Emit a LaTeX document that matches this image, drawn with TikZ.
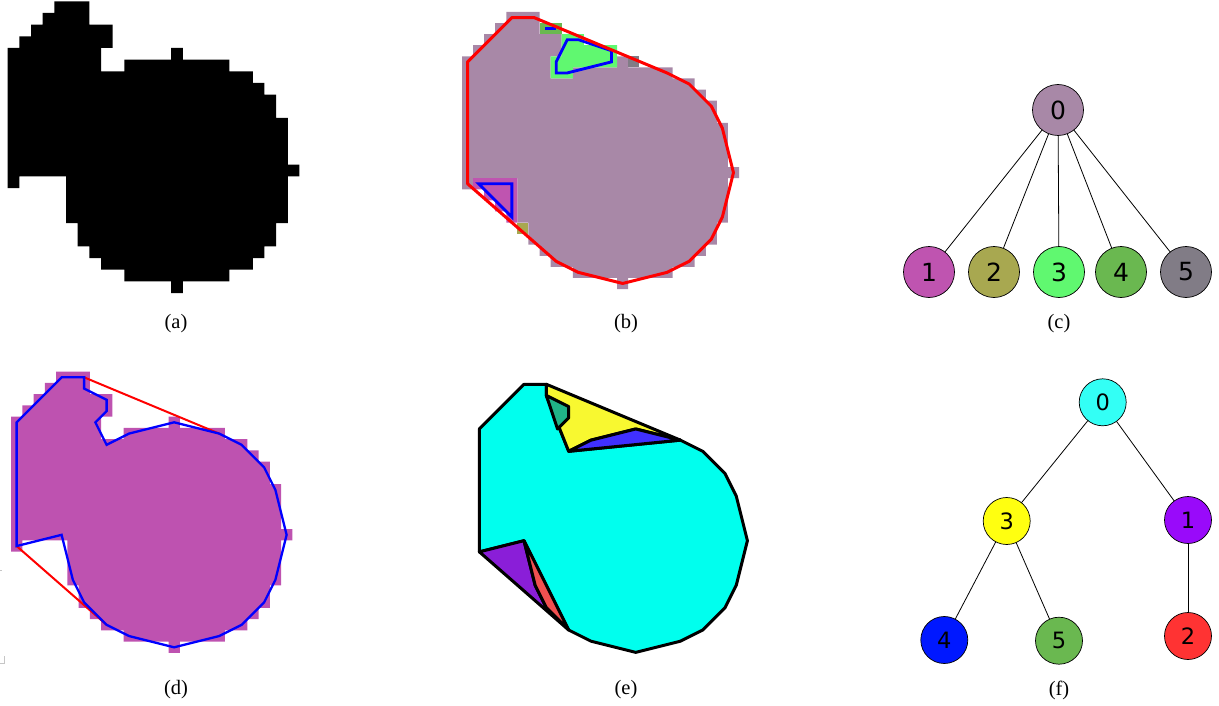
\documentclass[tikz,border=0pt]{standalone}
\usepackage{fontspec}
\setmainfont{Liberation Serif}
\newfontfamily\nodefont{DejaVu Sans}
\usetikzlibrary{backgrounds}
\definecolor{bpurple}{RGB}{168,136,167}
\definecolor{cmag}{RGB}{191,84,176}
\definecolor{colive}{RGB}{168,168,80}
\definecolor{clgreen}{RGB}{96,248,112}
\definecolor{cgreen}{RGB}{106,184,80}
\definecolor{cgray}{RGB}{129,124,134}
\definecolor{dmag}{RGB}{190,82,176}
\definecolor{ecyan}{RGB}{0,255,238}
\definecolor{eyellow}{RGB}{248,248,48}
\definecolor{eteal}{RGB}{32,180,136}
\definecolor{eblue}{RGB}{64,48,255}
\definecolor{epurple}{RGB}{138,30,216}
\definecolor{ered}{RGB}{240,80,80}
\definecolor{fcyan}{RGB}{51,255,245}
\definecolor{fyellow}{RGB}{255,255,16}
\definecolor{fpurple}{RGB}{153,10,250}
\definecolor{fblue}{RGB}{0,24,255}
\definecolor{fgreen}{RGB}{106,184,80}
\definecolor{fred}{RGB}{255,51,51}
\definecolor{hullred}{RGB}{255,0,0}
\definecolor{contblue}{RGB}{0,0,255}
% pixel cells of the silhouette, in cell units
\newcommand\shapecells[1]{%
  \fill[#1] (4,0) rectangle (7,1) (3,1) rectangle (7,2) (2,2) rectangle (9,3)
    (1,3) rectangle (9,4) (0,4) rectangle (8,6) (14,4) rectangle (15,5)
    (10,5) rectangle (19,6) (0,6) rectangle (21,7) (0,7) rectangle (22,8)
    (0,8) rectangle (23,10) (0,10) rectangle (24,14) (0,14) rectangle (25,15)
    (0,15) rectangle (1,16) (5,15) rectangle (24,19) (6,19) rectangle (23,21)
    (7,21) rectangle (22,22) (8,22) rectangle (21,23) (10,23) rectangle (19,24)
    (14,24) rectangle (15,25);}
\newcommand\hullpoly[1]{%
  \draw[#1] (4.5,0.5) -- (6.5,0.5) -- (18.5,5.5) -- (20.5,6.5) -- (22.5,8.5)
    -- (23.5,10.5) -- (24.5,14.5) -- (23.5,18.5) -- (22.5,20.5) -- (20.5,22.5)
    -- (18.5,23.5) -- (14.5,24.5) -- (10.5,23.5) -- (8.5,22.5) -- (0.5,15.5)
    -- (0.5,4.5) -- cycle;}
\tikzset{
  hullline/.style={hullred, line width=3pt, line join=round},
  contline/.style={contblue, line width=2.8pt, line join=miter},
  piece/.style={draw=black, line width=3pt, line join=round},
  cnode/.style={circle, draw=black, line width=0.7pt, minimum size=51pt, inner sep=0pt,
    font=\nodefont\fontsize{25}{25}\selectfont},
  fnode/.style={circle, draw=black, line width=0.7pt, minimum size=47pt, inner sep=0pt,
    font=\nodefont\fontsize{22.5}{22.5}\selectfont},
  treeedge/.style={black, line width=0.8pt},
  captxt/.style={font=\fontsize{20.5}{20.5}\selectfont, inner sep=0pt}
}
\begin{document}
\begin{tikzpicture}[x=1pt,y=-1pt]
\useasboundingbox (0,0) rectangle (1219,706);
% ---------- (a) ----------
\begin{scope}[shift={(7.7,1.3)},x=11.67pt,y=-11.67pt]
  \shapecells{black}
\end{scope}
% ---------- (b) ----------
\begin{scope}[shift={(462,12)},x=11.08pt,y=-11.08pt]
  \shapecells{bpurple}
  \fill[cgreen] (7,1) rectangle (9,2);
  \fill[clgreen] (9,2) rectangle (11,3) (9,3) rectangle (14,4) (8,4) rectangle (14,5) (8,5) rectangle (10,6);
  \fill[cgray] (15,4) rectangle (16,5);
  \fill[cmag] (1,15) rectangle (5,16) (2,16) rectangle (5,17) (3,17) rectangle (5,18) (4,18) rectangle (5,19);
  \fill[colive] (5,19) rectangle (6,20);
  \draw[contline] (9.5,2.5) -- (10.5,2.5) -- (13.5,3.5) -- (13.5,4.5) -- (9.5,5.5) -- (8.5,5.5) -- (8.5,4.5) -- cycle;
  \draw[contline] (1.5,15.5) -- (4.5,15.5) -- (4.5,18.5) -- cycle;
  \draw[contline] (7.5,1.5) -- (8.5,1.5);
  \hullpoly{hullline}
\end{scope}
% ---------- (d) ----------
\begin{scope}[shift={(11,371.7)},x=11.25pt,y=-11.25pt]
  \shapecells{dmag}
  \draw[hullline, line width=2pt] (6.5,0.5) -- (18.5,5.5);
  \draw[hullline, line width=2pt] (0.5,15.5) -- (8.5,22.5);
  \draw[contline, line width=2.3pt] (4.5,0.5) -- (6.5,0.5) -- (6.5,1.5) -- (8.5,2.5) -- (8.5,3.5) -- (7.5,4.5)
    -- (8.5,6.5) -- (10.5,5.5) -- (14.5,4.5) -- (18.5,5.5) -- (20.5,6.5) -- (22.5,8.5) -- (23.5,10.5)
    -- (24.5,14.5) -- (23.5,18.5) -- (22.5,20.5) -- (20.5,22.5) -- (18.5,23.5) -- (14.5,24.5)
    -- (10.5,23.5) -- (8.5,22.5) -- (6.5,20.5) -- (5.5,18.5) -- (4.5,14.5) -- (0.5,15.5) -- (0.5,4.5) -- cycle;
\end{scope}
\draw[gray!45, line width=0.6pt] (0,570) -- (1.5,570);
\draw[gray!45, line width=0.6pt] (4,656) -- (4,663) -- (0,663);
% ---------- (e) ----------
\begin{scope}[shift={(473.75,378.7)},x=11.17pt,y=-11.17pt]
  \filldraw[piece, fill=ecyan] (4.5,0.5) -- (6.5,0.5) -- (6.5,1.5) -- (8.5,6.5) -- (18.5,5.5) -- (20.5,6.5)
    -- (22.5,8.5) -- (23.5,10.5) -- (24.5,14.5) -- (23.5,18.5) -- (22.5,20.5) -- (20.5,22.5)
    -- (18.5,23.5) -- (14.5,24.5) -- (10.5,23.5) -- (8.5,22.5) -- (4.5,14.5) -- (0.5,15.5) -- (0.5,4.5) -- cycle;
  \filldraw[piece, fill=eyellow] (6.5,0.5) -- (18.5,5.5) -- (14.5,4.5) -- (10.5,5.5) -- (8.5,6.5) -- (6.5,1.5) -- cycle;
  \filldraw[piece, fill=eblue] (8.5,6.5) -- (10.5,5.5) -- (14.5,4.5) -- (18.5,5.5) -- cycle;
  \filldraw[piece, fill=eteal] (6.5,1.5) -- (8.5,2.5) -- (8.5,3.5) -- (7.5,4.5) -- cycle;
  \filldraw[piece, fill=epurple] (0.5,15.5) -- (4.5,14.5) -- (5.5,18.5) -- (6.5,20.5) -- (8.5,22.5) -- cycle;
  \filldraw[piece, fill=ered] (4.5,14.5) -- (8.5,22.5) -- (6.5,20.5) -- (5.5,18.5) -- cycle;
\end{scope}
% ---------- (c) tree ----------
\node[cnode, fill=bpurple] (c0) at (1058,110) {0};
\node[cnode, fill=cmag] (c1) at (929,272) {1};
\node[cnode, fill=colive] (c2) at (994,272) {2};
\node[cnode, fill=clgreen] (c3) at (1059,272) {3};
\node[cnode, fill=cgreen] (c4) at (1121,272) {4};
\node[cnode, fill=cgray] (c5) at (1186,272) {5};
% ---------- (f) tree ----------
\node[fnode, fill=fcyan] (f0) at (1102.7,402.3) {0};
\node[fnode, fill=fyellow] (f3) at (1006.7,521) {3};
\node[fnode, fill=fpurple] (f1) at (1188,520) {1};
\node[fnode, fill=fblue] (f4) at (944.3,640) {4};
\node[fnode, fill=fgreen] (f5) at (1059,640.7) {5};
\node[fnode, fill=fred] (f2) at (1188,636) {2};
\begin{scope}[on background layer]
  \foreach \k in {1,...,5} \draw[treeedge] (c0.center) -- (c\k.center);
  \draw[treeedge] (f0.center) -- (f3.center);
  \draw[treeedge] (f0.center) -- (f1.center);
  \draw[treeedge] (f3.center) -- (f4.center);
  \draw[treeedge] (f3.center) -- (f5.center);
  \draw[treeedge] (f1.center) -- (f2.center);
\end{scope}
% ---------- captions ----------
\node[captxt] (capa) at (176,324) {(a)};
\node[captxt] (capb) at (626,324) {(b)};
\node[captxt] (capc) at (1059,324) {(c)};
\node[captxt] (capd) at (176,690) {(d)};
\node[captxt] (cape) at (626,690) {(e)};
\node[captxt] (capf) at (1059,690) {(f)};
\end{tikzpicture}
\end{document}
